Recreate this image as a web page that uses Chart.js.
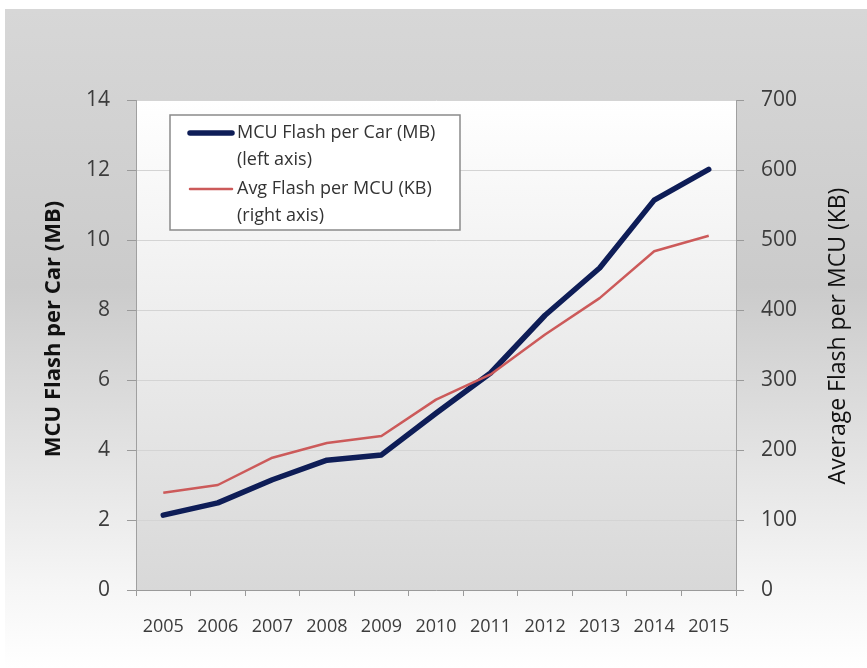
<!DOCTYPE html>
<html>
<head>
<meta charset="utf-8">
<script src="https://cdn.jsdelivr.net/npm/chart.js@4/dist/chart.umd.min.js"></script>
<style>
  html, body { margin: 0; padding: 0; background: #fff; }
  canvas { display: block; }
</style>
</head>
<body>
<canvas id="grafico" width="867" height="668"></canvas>
<script>
// datos
const anios = ['2005', '2006', '2007', '2008', '2009', '2010', '2011', '2012', '2013', '2014', '2015'];
const flashPorCoche = [2.14, 2.49, 3.15, 3.71, 3.86, 5.05, 6.2, 7.85, 9.2, 11.14, 12.02];   // MB, eje izquierdo
const flashPorMcu = [139, 150, 189, 210, 220, 272, 308, 365, 417, 484, 506];               // KB, eje derecho
const nombresSeries = ['MCU Flash per Car (MB)', 'Avg Flash per MCU (KB)'];
const notasEje = ['(left axis)', '(right axis)'];
const tituloIzq = 'MCU Flash per Car (MB)';
const tituloDer = 'Average Flash per MCU (KB)';

const fuente = "'Open Sans', 'Liberation Sans', sans-serif";

// fondos degradados (exterior y area de trazado)
const fondos = {
    id: 'fondos',
    beforeDraw(chart) {
        const ctx = chart.ctx;
        const a = chart.chartArea;
        ctx.save();
        ctx.fillStyle = '#ffffff';
        ctx.fillRect(0, 0, chart.width, chart.height);
        let g = ctx.createLinearGradient(0, 9, 0, chart.height);
        g.addColorStop(0, '#d7d7d7');
        g.addColorStop(0.42, '#cbcbcb');
        g.addColorStop(0.88, '#f6f6f6');
        g.addColorStop(1, '#ffffff');
        ctx.fillStyle = g;
        ctx.fillRect(5, 9, chart.width - 5, chart.height - 9);
        g = ctx.createLinearGradient(0, a.top, 0, a.bottom);
        g.addColorStop(0, '#ffffff');
        g.addColorStop(1, '#d8d8d8');
        ctx.fillStyle = g;
        ctx.fillRect(a.left, a.top, a.right - a.left, a.bottom - a.top);
        ctx.restore();
    }
};

// titulos de los ejes, los dos leidos de abajo hacia arriba
const titulos = {
    id: 'titulos',
    afterDraw(chart) {
        const ctx = chart.ctx;
        ctx.save();
        ctx.fillStyle = '#111111';
        ctx.textAlign = 'center';
        ctx.textBaseline = 'middle';
        ctx.translate(54, 329);
        ctx.rotate(-Math.PI / 2);
        ctx.font = 'bold 22px ' + fuente;
        ctx.fillText(tituloIzq, 0, 0);
        ctx.restore();
        ctx.save();
        ctx.fillStyle = '#111111';
        ctx.textAlign = 'center';
        ctx.textBaseline = 'middle';
        ctx.translate(838, 336);
        ctx.rotate(-Math.PI / 2);
        ctx.font = '23px ' + fuente;
        ctx.fillText(tituloDer, 0, 0);
        ctx.restore();
    }
};

// leyenda dentro del area, con dos lineas por serie
const leyenda = {
    id: 'leyenda',
    afterDraw(chart) {
        const ctx = chart.ctx;
        const x = 170, y = 115, w = 290, h = 115;
        ctx.save();
        ctx.fillStyle = '#ffffff';
        ctx.fillRect(x, y, w, h);
        ctx.strokeStyle = '#8a8a8a';
        ctx.lineWidth = 1.5;
        ctx.strokeRect(x, y, w, h);
        ctx.font = '18px ' + fuente;
        ctx.textBaseline = 'middle';
        ctx.fillStyle = '#333333';
        chart.data.datasets.forEach((ds, i) => {
            const yy = y + 18 + i * 56;
            ctx.strokeStyle = ds.borderColor;
            ctx.lineWidth = ds.borderWidth;
            ctx.lineCap = 'round';
            ctx.beginPath();
            ctx.moveTo(x + 20, yy);
            ctx.lineTo(x + 62, yy);
            ctx.stroke();
            ctx.fillText(ds.label, x + 67, yy);
            ctx.fillText(ds.nota, x + 67, yy + 27);
        });
        ctx.restore();
    }
};

new Chart(document.getElementById('grafico'), {
    type: 'line',
    data: {
        labels: anios,
        datasets: [
            {
                label: nombresSeries[0],
                nota: notasEje[0],
                data: flashPorCoche,
                yAxisID: 'y',
                borderColor: '#0e1d57',
                borderWidth: 5.5,
                borderCapStyle: 'round',
                borderJoinStyle: 'round',
                pointRadius: 0,
                tension: 0,
                order: 2
            },
            {
                label: nombresSeries[1],
                nota: notasEje[1],
                data: flashPorMcu,
                yAxisID: 'y1',
                borderColor: '#cc5a5a',
                borderWidth: 2.5,
                borderJoinStyle: 'round',
                pointRadius: 0,
                tension: 0,
                order: 1
            }
        ]
    },
    options: {
        responsive: false,
        animation: false,
        layout: { padding: { top: 100, left: 0, right: 0, bottom: 0 } },
        plugins: {
            legend: { display: false },
            tooltip: { enabled: false }
        },
        scales: {
            x: {
                offset: true,
                grid: { offset: true, drawOnChartArea: false, tickLength: 6, tickColor: '#9a9a9a' },
                border: { color: '#9a9a9a' },
                ticks: { color: '#3c3c3c', font: { family: fuente, size: 18 }, padding: 20, maxRotation: 0 },
                afterFit(s) { s.height = 78; }
            },
            y: {
                position: 'left',
                min: 0,
                max: 14,
                ticks: { stepSize: 2, color: '#3c3c3c', font: { family: fuente, size: 21 }, padding: 17 },
                grid: { color: '#d4d4d4', tickLength: 9, tickColor: '#9a9a9a' },
                border: { color: '#a0a0a0' },
                afterFit(s) { s.width = 136; }
            },
            y1: {
                position: 'right',
                min: 0,
                max: 700,
                ticks: { stepSize: 100, color: '#3c3c3c', font: { family: fuente, size: 21 }, padding: 17 },
                grid: { drawOnChartArea: false, tickLength: 8, tickColor: '#9a9a9a' },
                border: { color: '#a0a0a0' },
                afterFit(s) { s.width = 131; }
            }
        }
    },
    plugins: [fondos, titulos, leyenda]
});
</script>
</body>
</html>
